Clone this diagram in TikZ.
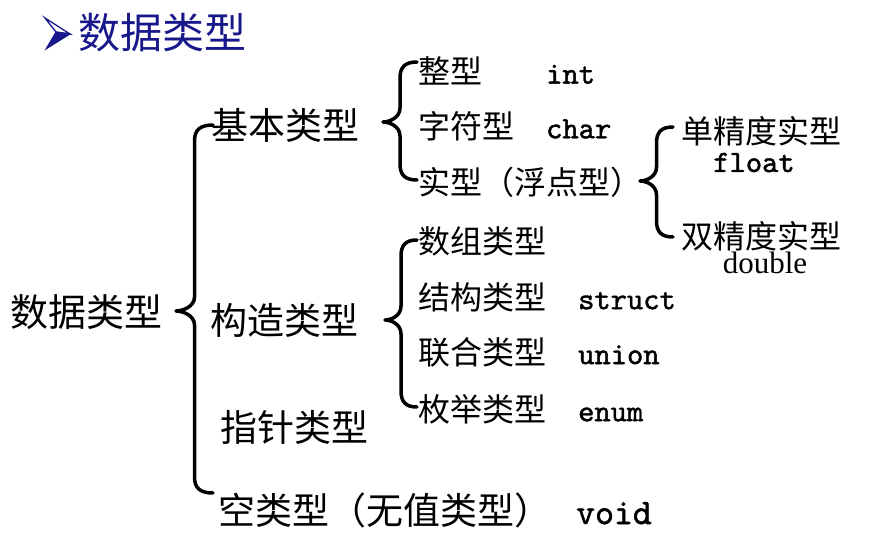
\documentclass[tikz,border=0pt]{standalone}
\usepackage{fontspec}
\setmainfont{Liberation Serif}
\newfontfamily\cjk{Noto Sans CJK SC}
\newfontfamily\mono{lmmono10-regular.otf}[FakeBold=1.4]
\usetikzlibrary{calc}
\definecolor{titleblue}{RGB}{24,24,140}
\tikzset{
  lvl0/.style={font=\cjk\fontsize{38}{40}\selectfont, inner sep=0pt, anchor=west},
  lvl1/.style={font=\cjk\fontsize{37}{40}\selectfont, inner sep=0pt, anchor=west},
  lvl2/.style={font=\cjk\fontsize{32}{36}\selectfont, inner sep=0pt, anchor=west},
  code/.style={font=\mono\fontsize{31}{33}\selectfont, inner sep=0pt, anchor=base west},
  bigcode/.style={font=\mono\fontsize{36}{38}\selectfont, inner sep=0pt, anchor=base west},
  sercode/.style={font=\fontsize{31}{33}\selectfont, inner sep=0pt, anchor=base},
  titlestyle/.style={font=\cjk\fontsize{42}{44}\selectfont, text=titleblue, inner sep=0pt, anchor=west},
  brcline/.style={line width=3.5pt, line cap=round, line join=round},
}
% right end x, top y, bottom y, tip x, tip y
\newcommand\bracepath[5]{%
  \draw[brcline] (#1,#2) .. controls ({#1/2+#4/2+(#1-#4)*0.15},#2) and ({#1/2+#4/2},{#2+5}) .. ({#1/2+#4/2},{#2+16})
   -- ({#1/2+#4/2},{#5-14}) .. controls ({#1/2+#4/2},{#5-4}) and ({#4+6},#5) .. (#4,#5)
   .. controls ({#4+6},#5) and ({#1/2+#4/2},{#5+4}) .. ({#1/2+#4/2},{#5+14})
   -- ({#1/2+#4/2},{#3-16}) .. controls ({#1/2+#4/2},{#3-5}) and ({#1/2+#4/2+(#1-#4)*0.15},#3) .. (#1,#3);}
\begin{document}
\begin{tikzpicture}[x=1pt,y=-1pt]
\useasboundingbox[fill=white] (0,0) rectangle (873,534);
% title bullet (drawn arrowhead)
\draw[titleblue, line width=1.3pt, line join=miter] (45,18) -- (70,34) -- (56,32) -- cycle;
\fill[titleblue] (56,32) -- (70,34) -- (46,49) -- cycle;
\draw[titleblue, line width=1pt, line join=miter] (56,32) -- (70,34) -- (46,49) -- cycle;
\node[titlestyle] (ttl) at (78,33) {数据类型};
% root and level 1
\node[lvl0] (root) at (10,312) {数据类型};
\node[lvl1] (basic) at (211,125) {基本类型};
\node[lvl1] (constr) at (210,320) {构造类型};
\node[lvl1] (ptr) at (220,427) {指针类型};
\node[lvl1] (voidt) at (218,510) {空类型（无值类型）};
\node[bigcode] (voidc) at ($(voidt.base west)+(358,0)$) {void};
% basic types
\node[lvl2] (intt) at (418,71) {整型};
\node[code] (intc) at ($(intt.base west)+(128,0)$) {int};
\node[lvl2] (chrt) at (418,126) {字符型};
\node[code] (chrc) at ($(chrt.base west)+(128,0)$) {char};
\node[lvl2] (realt) at (418,182) {实型（浮点型）};
\node[lvl2] (sglt) at (681,131) {单精度实型};
\node[code, anchor=base] (fltc) at (754,172) {float};
\node[lvl2] (dblt) at (681,236) {双精度实型};
\node[sercode] (dblc) at (765,274) {double};
% constructed types
\node[lvl2] (arrt) at (418,241) {数组类型};
\node[lvl2] (stt) at (418,297) {结构类型};
\node[code] (stc) at ($(stt.base west)+(160,0)$) {struct};
\node[lvl2] (unt) at (418,352) {联合类型};
\node[code] (unc) at ($(unt.base west)+(160,0)$) {union};
\node[lvl2] (ent) at (418,409) {枚举类型};
\node[code] (enc) at ($(ent.base west)+(160,0)$) {enum};
% braces
\bracepath{213}{125}{493}{176}{311}
\bracepath{417}{62}{180}{383}{122}
\bracepath{673}{127}{237}{640}{181}
\bracepath{417}{240}{407}{385}{320}
\end{tikzpicture}
\end{document}
